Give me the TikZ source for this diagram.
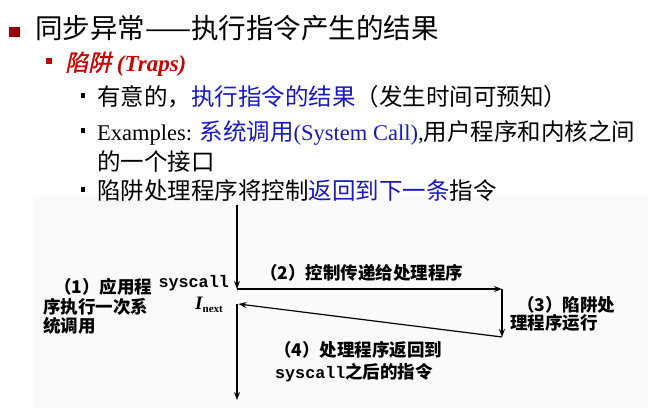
\documentclass[tikz,border=0pt]{standalone}
\usepackage{fontspec}
\setmainfont{Liberation Serif}
\newfontfamily\cjk{Noto Sans CJK SC}
\newfontfamily\cjkL{Noto Sans CJK SC}[Scale=1.0444]
\newfontfamily\cjkit{Noto Sans CJK SC}[FakeSlant=0.22,FakeBold=1.2]
\newfontfamily\mono{Liberation Mono}
\usetikzlibrary{arrows.meta}
\definecolor{tred}{RGB}{200,0,0}
\definecolor{bred}{RGB}{150,0,10}
\definecolor{tblue}{RGB}{25,25,190}
\definecolor{diagbg}{RGB}{250,250,250}
\begin{document}
\begin{tikzpicture}[x=1pt,y=-1pt,
  txt/.style={inner sep=0pt,anchor=base west},
  title/.style={txt,font=\fontsize{27.5}{30}\selectfont\cjk},
  lvtwo/.style={txt,font=\fontsize{23}{26}\selectfont},
  lvthree/.style={txt,font=\fontsize{22.5}{28}\selectfont},
  dg/.style={txt,font=\fontsize{17.5}{20}\selectfont\cjk\bfseries},
  flow/.style={line width=1.2pt,-{Stealth[length=8pt,width=6pt]}}]
\useasboundingbox (0,0) rectangle (653,413);
% diagram background
\fill[diagbg] (33,196) rectangle (648,408);
% bullets
\fill[bred] (9,27) rectangle (20,37);
\fill[tred] (45.5,57.5) rectangle (52,64);
\fill[black] (80.5,93) rectangle (85,98);
\fill[black] (80.5,128) rectangle (85,133);
\fill[black] (80.5,187) rectangle (85,192);
% slide text
\node[title] (t1) at (35,38) {同步异常——执行指令产生的结果};
\node[lvtwo,text=tred] (t2) at (65,71) {{\cjkit 陷阱} \textbf{\textit{(Traps)}}};
\node[lvthree] (t3) at (97,105) {\cjkL 有意的，\textcolor{tblue}{执行指令的结果}（发生时间可预知）};
\node[lvthree] (t4) at (97,140) {Examples: \textcolor{tblue}{{\cjkL 系统调用}(System Call)},{\cjkL 用户程序和内核之间}};
\node[lvthree] (t5) at (97,170) {\cjkL 的一个接口};
\node[lvthree] (t6) at (97,199) {\cjkL 陷阱处理程序将控制\textcolor{tblue}{返回到下一条}指令};
% flow coordinates
\coordinate (top) at (237,205);
\coordinate (sc) at (237,289);
\coordinate (rt) at (502,289);
\coordinate (rb) at (502,337);
\coordinate (nx) at (237,304);
\coordinate (nxa) at (238.5,304);
\coordinate (bot) at (237,400);
\draw[flow] (top) -- (sc);
\draw[flow] (sc) -- (rt);
\draw[flow] (rt) -- (rb);
\draw[flow] (rb) -- (nxa);
\draw[flow] (nx) -- (bot);
% diagram labels
\node[inner sep=0pt,anchor=base east,font=\fontsize{16.7}{20}\selectfont\mono\bfseries] (sys) at (229,287) {syscall};
\node[inner sep=0pt,anchor=base east] (inext) at (223,309.5) {{\fontsize{19}{20}\selectfont\itshape\bfseries I}{\fontsize{11}{12}\selectfont\bfseries\raisebox{-2.5pt}{next}}};
\node[dg] (l1a) at (54,293.5) {（1）应用程};
\node[dg] (l1b) at (43,313.5) {序执行一次系};
\node[dg] (l1c) at (43,332.5) {统调用};
\node[dg] (l2) at (260,279) {（2）控制传递给处理程序};
\node[dg] (l3a) at (517,311.5) {（3）陷阱处};
\node[dg] (l3b) at (510,329.5) {理程序运行};
\node[dg] (l4a) at (274,356.5) {（4）处理程序返回到};
\node[dg] (l4b) at (275,378.5) {{\mono\bfseries\fontsize{16.7}{20}\selectfont syscall}之后的指令};
\end{tikzpicture}
\end{document}
